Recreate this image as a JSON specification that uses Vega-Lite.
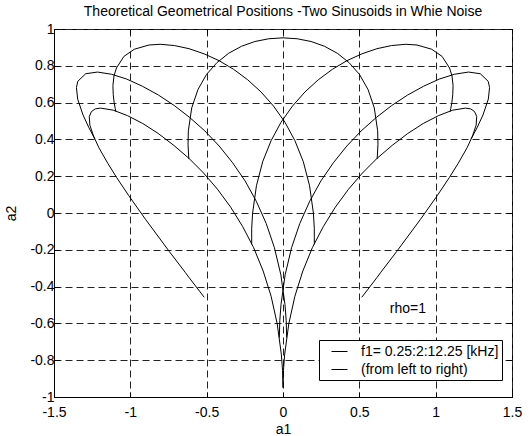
{
 "$schema": "https://vega.github.io/schema/vega-lite/v6.json",
 "width": 458, "height": 368,
 "autosize": {"type": "none"},
 "padding": {"left": 54, "top": 29, "right": 19, "bottom": 39},
 "background": "white",
 "title": {"text": "Theoretical Geometrical Positions -Two Sinusoids in Whie Noise", "font": "Liberation Sans", "fontSize": 14, "fontWeight": "normal", "color": "black", "offset": 3},
 "config": {"view": {"stroke": "black", "strokeWidth": 1}, "font": "Liberation Sans"},
 "data": {"values": [
  {"lab":"f1= 0.25:2:12.25 [kHz]","i":0,"a1":-0.516,"a2":-0.458},
  {"lab":"f1= 0.25:2:12.25 [kHz]","i":1,"a1":-0.543,"a2":-0.429},
  {"lab":"f1= 0.25:2:12.25 [kHz]","i":2,"a1":-0.617,"a2":-0.349},
  {"lab":"f1= 0.25:2:12.25 [kHz]","i":3,"a1":-0.641,"a2":-0.322},
  {"lab":"f1= 0.25:2:12.25 [kHz]","i":4,"a1":-0.744,"a2":-0.210},
  {"lab":"f1= 0.25:2:12.25 [kHz]","i":5,"a1":-0.900,"a2":-0.035},
  {"lab":"f1= 0.25:2:12.25 [kHz]","i":6,"a1":-1.010,"a2":0.094},
  {"lab":"f1= 0.25:2:12.25 [kHz]","i":7,"a1":-1.089,"a2":0.192},
  {"lab":"f1= 0.25:2:12.25 [kHz]","i":8,"a1":-1.147,"a2":0.269},
  {"lab":"f1= 0.25:2:12.25 [kHz]","i":9,"a1":-1.206,"a2":0.355},
  {"lab":"f1= 0.25:2:12.25 [kHz]","i":10,"a1":-1.241,"a2":0.418},
  {"lab":"f1= 0.25:2:12.25 [kHz]","i":11,"a1":-1.265,"a2":0.477},
  {"lab":"f1= 0.25:2:12.25 [kHz]","i":12,"a1":-1.269,"a2":0.524},
  {"lab":"f1= 0.25:2:12.25 [kHz]","i":13,"a1":-1.255,"a2":0.551},
  {"lab":"f1= 0.25:2:12.25 [kHz]","i":14,"a1":-1.229,"a2":0.566},
  {"lab":"f1= 0.25:2:12.25 [kHz]","i":15,"a1":-1.195,"a2":0.570},
  {"lab":"f1= 0.25:2:12.25 [kHz]","i":16,"a1":-1.112,"a2":0.559},
  {"lab":"f1= 0.25:2:12.25 [kHz]","i":17,"a1":-1.018,"a2":0.529},
  {"lab":"f1= 0.25:2:12.25 [kHz]","i":18,"a1":-0.918,"a2":0.486},
  {"lab":"f1= 0.25:2:12.25 [kHz]","i":19,"a1":-0.817,"a2":0.432},
  {"lab":"f1= 0.25:2:12.25 [kHz]","i":20,"a1":-0.716,"a2":0.368},
  {"lab":"f1= 0.25:2:12.25 [kHz]","i":21,"a1":-0.616,"a2":0.297},
  {"lab":"f1= 0.25:2:12.25 [kHz]","i":22,"a1":-0.520,"a2":0.217},
  {"lab":"f1= 0.25:2:12.25 [kHz]","i":23,"a1":-0.429,"a2":0.129},
  {"lab":"f1= 0.25:2:12.25 [kHz]","i":24,"a1":-0.343,"a2":0.032},
  {"lab":"f1= 0.25:2:12.25 [kHz]","i":25,"a1":-0.264,"a2":-0.074},
  {"lab":"f1= 0.25:2:12.25 [kHz]","i":26,"a1":-0.192,"a2":-0.189},
  {"lab":"f1= 0.25:2:12.25 [kHz]","i":27,"a1":-0.130,"a2":-0.315},
  {"lab":"f1= 0.25:2:12.25 [kHz]","i":28,"a1":-0.078,"a2":-0.452},
  {"lab":"f1= 0.25:2:12.25 [kHz]","i":29,"a1":-0.038,"a2":-0.602},
  {"lab":"f1= 0.25:2:12.25 [kHz]","i":30,"a1":-0.011,"a2":-0.767},
  {"lab":"f1= 0.25:2:12.25 [kHz]","i":31,"a1":-0.003,"a2":-0.856},
  {"lab":"f1= 0.25:2:12.25 [kHz]","i":32,"a1":0.000,"a2":-0.949},

  {"lab":"(from left to right)","i":0,"a1":-1.233,"a2":0.404},
  {"lab":"(from left to right)","i":1,"a1":-1.271,"a2":0.463},
  {"lab":"(from left to right)","i":2,"a1":-1.310,"a2":0.533},
  {"lab":"(from left to right)","i":3,"a1":-1.345,"a2":0.619},
  {"lab":"(from left to right)","i":4,"a1":-1.353,"a2":0.682},
  {"lab":"(from left to right)","i":5,"a1":-1.344,"a2":0.716},
  {"lab":"(from left to right)","i":6,"a1":-1.292,"a2":0.757},
  {"lab":"(from left to right)","i":7,"a1":-1.215,"a2":0.766},
  {"lab":"(from left to right)","i":8,"a1":-1.123,"a2":0.754},
  {"lab":"(from left to right)","i":9,"a1":-1.024,"a2":0.728},
  {"lab":"(from left to right)","i":10,"a1":-0.921,"a2":0.689},
  {"lab":"(from left to right)","i":11,"a1":-0.816,"a2":0.641},
  {"lab":"(from left to right)","i":12,"a1":-0.712,"a2":0.584},
  {"lab":"(from left to right)","i":13,"a1":-0.611,"a2":0.519},
  {"lab":"(from left to right)","i":14,"a1":-0.512,"a2":0.446},
  {"lab":"(from left to right)","i":15,"a1":-0.418,"a2":0.364},
  {"lab":"(from left to right)","i":16,"a1":-0.330,"a2":0.273},
  {"lab":"(from left to right)","i":17,"a1":-0.248,"a2":0.174},
  {"lab":"(from left to right)","i":18,"a1":-0.175,"a2":0.064},
  {"lab":"(from left to right)","i":19,"a1":-0.110,"a2":-0.057},
  {"lab":"(from left to right)","i":20,"a1":-0.056,"a2":-0.189},
  {"lab":"(from left to right)","i":21,"a1":-0.014,"a2":-0.336},
  {"lab":"(from left to right)","i":22,"a1":0.013,"a2":-0.498},
  {"lab":"(from left to right)","i":23,"a1":0.021,"a2":-0.585},
  {"lab":"(from left to right)","i":24,"a1":0.024,"a2":-0.677},

  {"lab":"f1=4.25","i":0,"a1":-1.095,"a2":0.551},
  {"lab":"f1=4.25","i":1,"a1":-1.099,"a2":0.568},
  {"lab":"f1=4.25","i":2,"a1":-1.106,"a2":0.600},
  {"lab":"f1=4.25","i":3,"a1":-1.112,"a2":0.643},
  {"lab":"f1=4.25","i":4,"a1":-1.114,"a2":0.693},
  {"lab":"f1=4.25","i":5,"a1":-1.107,"a2":0.745},
  {"lab":"f1=4.25","i":6,"a1":-1.091,"a2":0.788},
  {"lab":"f1=4.25","i":7,"a1":-1.042,"a2":0.851},
  {"lab":"f1=4.25","i":8,"a1":-0.974,"a2":0.890},
  {"lab":"f1=4.25","i":9,"a1":-0.878,"a2":0.913},
  {"lab":"f1=4.25","i":10,"a1":-0.805,"a2":0.917},
  {"lab":"f1=4.25","i":11,"a1":-0.711,"a2":0.910},
  {"lab":"f1=4.25","i":12,"a1":-0.615,"a2":0.893},
  {"lab":"f1=4.25","i":13,"a1":-0.517,"a2":0.865},
  {"lab":"f1=4.25","i":14,"a1":-0.419,"a2":0.828},
  {"lab":"f1=4.25","i":15,"a1":-0.324,"a2":0.781},
  {"lab":"f1=4.25","i":16,"a1":-0.231,"a2":0.724},
  {"lab":"f1=4.25","i":17,"a1":-0.144,"a2":0.658},
  {"lab":"f1=4.25","i":18,"a1":-0.062,"a2":0.581},
  {"lab":"f1=4.25","i":19,"a1":0.013,"a2":0.493},
  {"lab":"f1=4.25","i":20,"a1":0.078,"a2":0.393},
  {"lab":"f1=4.25","i":21,"a1":0.133,"a2":0.279},
  {"lab":"f1=4.25","i":22,"a1":0.174,"a2":0.148},
  {"lab":"f1=4.25","i":23,"a1":0.199,"a2":0.000},
  {"lab":"f1=4.25","i":24,"a1":0.205,"a2":-0.083},
  {"lab":"f1=4.25","i":25,"a1":0.205,"a2":-0.135},
  {"lab":"f1=4.25","i":26,"a1":0.205,"a2":-0.171},

  {"lab":"f1=6.25","i":0,"a1":-0.616,"a2":0.293},
  {"lab":"f1=6.25","i":1,"a1":-0.618,"a2":0.310},
  {"lab":"f1=6.25","i":2,"a1":-0.622,"a2":0.374},
  {"lab":"f1=6.25","i":3,"a1":-0.620,"a2":0.447},
  {"lab":"f1=6.25","i":4,"a1":-0.598,"a2":0.571},
  {"lab":"f1=6.25","i":5,"a1":-0.557,"a2":0.671},
  {"lab":"f1=6.25","i":6,"a1":-0.501,"a2":0.753},
  {"lab":"f1=6.25","i":7,"a1":-0.433,"a2":0.817},
  {"lab":"f1=6.25","i":8,"a1":-0.356,"a2":0.868},
  {"lab":"f1=6.25","i":9,"a1":-0.272,"a2":0.906},
  {"lab":"f1=6.25","i":10,"a1":-0.184,"a2":0.932},
  {"lab":"f1=6.25","i":11,"a1":-0.093,"a2":0.947},
  {"lab":"f1=6.25","i":12,"a1":0.000,"a2":0.952},
  {"lab":"f1=6.25","i":13,"a1":0.093,"a2":0.947},
  {"lab":"f1=6.25","i":14,"a1":0.184,"a2":0.932},
  {"lab":"f1=6.25","i":15,"a1":0.272,"a2":0.906},
  {"lab":"f1=6.25","i":16,"a1":0.356,"a2":0.868},
  {"lab":"f1=6.25","i":17,"a1":0.433,"a2":0.817},
  {"lab":"f1=6.25","i":18,"a1":0.501,"a2":0.753},
  {"lab":"f1=6.25","i":19,"a1":0.557,"a2":0.671},
  {"lab":"f1=6.25","i":20,"a1":0.598,"a2":0.571},
  {"lab":"f1=6.25","i":21,"a1":0.620,"a2":0.447},
  {"lab":"f1=6.25","i":22,"a1":0.622,"a2":0.374},
  {"lab":"f1=6.25","i":23,"a1":0.618,"a2":0.310},
  {"lab":"f1=6.25","i":24,"a1":0.616,"a2":0.293},

  {"lab":"f1=8.25","i":0,"a1":1.095,"a2":0.551},
  {"lab":"f1=8.25","i":1,"a1":1.099,"a2":0.568},
  {"lab":"f1=8.25","i":2,"a1":1.106,"a2":0.600},
  {"lab":"f1=8.25","i":3,"a1":1.112,"a2":0.643},
  {"lab":"f1=8.25","i":4,"a1":1.114,"a2":0.693},
  {"lab":"f1=8.25","i":5,"a1":1.107,"a2":0.745},
  {"lab":"f1=8.25","i":6,"a1":1.091,"a2":0.788},
  {"lab":"f1=8.25","i":7,"a1":1.042,"a2":0.851},
  {"lab":"f1=8.25","i":8,"a1":0.974,"a2":0.890},
  {"lab":"f1=8.25","i":9,"a1":0.878,"a2":0.913},
  {"lab":"f1=8.25","i":10,"a1":0.805,"a2":0.917},
  {"lab":"f1=8.25","i":11,"a1":0.711,"a2":0.910},
  {"lab":"f1=8.25","i":12,"a1":0.615,"a2":0.893},
  {"lab":"f1=8.25","i":13,"a1":0.517,"a2":0.865},
  {"lab":"f1=8.25","i":14,"a1":0.419,"a2":0.828},
  {"lab":"f1=8.25","i":15,"a1":0.324,"a2":0.781},
  {"lab":"f1=8.25","i":16,"a1":0.231,"a2":0.724},
  {"lab":"f1=8.25","i":17,"a1":0.144,"a2":0.658},
  {"lab":"f1=8.25","i":18,"a1":0.062,"a2":0.581},
  {"lab":"f1=8.25","i":19,"a1":-0.013,"a2":0.493},
  {"lab":"f1=8.25","i":20,"a1":-0.078,"a2":0.393},
  {"lab":"f1=8.25","i":21,"a1":-0.133,"a2":0.279},
  {"lab":"f1=8.25","i":22,"a1":-0.174,"a2":0.148},
  {"lab":"f1=8.25","i":23,"a1":-0.199,"a2":0.000},
  {"lab":"f1=8.25","i":24,"a1":-0.205,"a2":-0.083},
  {"lab":"f1=8.25","i":25,"a1":-0.205,"a2":-0.135},
  {"lab":"f1=8.25","i":26,"a1":-0.205,"a2":-0.171},

  {"lab":"f1=10.25","i":0,"a1":1.233,"a2":0.404},
  {"lab":"f1=10.25","i":1,"a1":1.271,"a2":0.463},
  {"lab":"f1=10.25","i":2,"a1":1.310,"a2":0.533},
  {"lab":"f1=10.25","i":3,"a1":1.345,"a2":0.619},
  {"lab":"f1=10.25","i":4,"a1":1.353,"a2":0.682},
  {"lab":"f1=10.25","i":5,"a1":1.344,"a2":0.716},
  {"lab":"f1=10.25","i":6,"a1":1.292,"a2":0.757},
  {"lab":"f1=10.25","i":7,"a1":1.215,"a2":0.766},
  {"lab":"f1=10.25","i":8,"a1":1.123,"a2":0.754},
  {"lab":"f1=10.25","i":9,"a1":1.024,"a2":0.728},
  {"lab":"f1=10.25","i":10,"a1":0.921,"a2":0.689},
  {"lab":"f1=10.25","i":11,"a1":0.816,"a2":0.641},
  {"lab":"f1=10.25","i":12,"a1":0.712,"a2":0.584},
  {"lab":"f1=10.25","i":13,"a1":0.611,"a2":0.519},
  {"lab":"f1=10.25","i":14,"a1":0.512,"a2":0.446},
  {"lab":"f1=10.25","i":15,"a1":0.418,"a2":0.364},
  {"lab":"f1=10.25","i":16,"a1":0.330,"a2":0.273},
  {"lab":"f1=10.25","i":17,"a1":0.248,"a2":0.174},
  {"lab":"f1=10.25","i":18,"a1":0.175,"a2":0.064},
  {"lab":"f1=10.25","i":19,"a1":0.110,"a2":-0.057},
  {"lab":"f1=10.25","i":20,"a1":0.056,"a2":-0.189},
  {"lab":"f1=10.25","i":21,"a1":0.014,"a2":-0.336},
  {"lab":"f1=10.25","i":22,"a1":-0.013,"a2":-0.498},
  {"lab":"f1=10.25","i":23,"a1":-0.021,"a2":-0.585},
  {"lab":"f1=10.25","i":24,"a1":-0.024,"a2":-0.677},

  {"lab":"f1=12.25","i":0,"a1":0.516,"a2":-0.458},
  {"lab":"f1=12.25","i":1,"a1":0.543,"a2":-0.429},
  {"lab":"f1=12.25","i":2,"a1":0.617,"a2":-0.349},
  {"lab":"f1=12.25","i":3,"a1":0.641,"a2":-0.322},
  {"lab":"f1=12.25","i":4,"a1":0.744,"a2":-0.210},
  {"lab":"f1=12.25","i":5,"a1":0.900,"a2":-0.035},
  {"lab":"f1=12.25","i":6,"a1":1.010,"a2":0.094},
  {"lab":"f1=12.25","i":7,"a1":1.089,"a2":0.192},
  {"lab":"f1=12.25","i":8,"a1":1.147,"a2":0.269},
  {"lab":"f1=12.25","i":9,"a1":1.206,"a2":0.355},
  {"lab":"f1=12.25","i":10,"a1":1.241,"a2":0.418},
  {"lab":"f1=12.25","i":11,"a1":1.265,"a2":0.477},
  {"lab":"f1=12.25","i":12,"a1":1.269,"a2":0.524},
  {"lab":"f1=12.25","i":13,"a1":1.255,"a2":0.551},
  {"lab":"f1=12.25","i":14,"a1":1.229,"a2":0.566},
  {"lab":"f1=12.25","i":15,"a1":1.195,"a2":0.570},
  {"lab":"f1=12.25","i":16,"a1":1.112,"a2":0.559},
  {"lab":"f1=12.25","i":17,"a1":1.018,"a2":0.529},
  {"lab":"f1=12.25","i":18,"a1":0.918,"a2":0.486},
  {"lab":"f1=12.25","i":19,"a1":0.817,"a2":0.432},
  {"lab":"f1=12.25","i":20,"a1":0.716,"a2":0.368},
  {"lab":"f1=12.25","i":21,"a1":0.616,"a2":0.297},
  {"lab":"f1=12.25","i":22,"a1":0.520,"a2":0.217},
  {"lab":"f1=12.25","i":23,"a1":0.429,"a2":0.129},
  {"lab":"f1=12.25","i":24,"a1":0.343,"a2":0.032},
  {"lab":"f1=12.25","i":25,"a1":0.264,"a2":-0.074},
  {"lab":"f1=12.25","i":26,"a1":0.192,"a2":-0.189},
  {"lab":"f1=12.25","i":27,"a1":0.130,"a2":-0.315},
  {"lab":"f1=12.25","i":28,"a1":0.078,"a2":-0.452},
  {"lab":"f1=12.25","i":29,"a1":0.038,"a2":-0.602},
  {"lab":"f1=12.25","i":30,"a1":0.011,"a2":-0.767},
  {"lab":"f1=12.25","i":31,"a1":0.003,"a2":-0.856},
  {"lab":"f1=12.25","i":32,"a1":0.000,"a2":-0.949}
 ]},
 "layer": [
  {
   "mark": {"type": "line", "strokeWidth": 1, "interpolate": "linear"},
   "encoding": {
    "x": {"field": "a1", "type": "quantitative",
      "scale": {"domain": [-1.5, 1.5], "nice": false, "zero": false},
      "axis": {"values": [-1.5, -1, -0.5, 0, 0.5, 1, 1.5], "labelExpr": "'' + datum.value", "title": "a1",
        "grid": true, "gridDash": [7, 4], "gridColor": "#222", "gridWidth": 1, "gridOpacity": 1,
        "tickSize": -5, "tickColor": "black", "domainColor": "black",
        "labelFont": "Liberation Sans", "labelFontSize": 14, "labelColor": "black", "labelPadding": 13, "labelFlush": false, "labelOverlap": false,
        "titleFont": "Liberation Sans", "titleFontSize": 14, "titleFontWeight": "normal", "titleColor": "black", "titlePadding": 3}},
    "y": {"field": "a2", "type": "quantitative",
      "scale": {"domain": [-1, 1], "nice": false, "zero": false},
      "axis": {"values": [-1, -0.8, -0.6, -0.4, -0.2, 0, 0.2, 0.4, 0.6, 0.8, 1], "labelExpr": "'' + datum.value", "title": "a2",
        "grid": true, "gridDash": [7, 4], "gridColor": "#222", "gridWidth": 1, "gridOpacity": 1,
        "tickSize": -5, "tickColor": "black", "domainColor": "black",
        "labelFont": "Liberation Sans", "labelFontSize": 14, "labelColor": "black", "labelPadding": 5, "labelFlush": false, "labelOverlap": false,
        "titleFont": "Liberation Sans", "titleFontSize": 14, "titleFontWeight": "normal", "titleColor": "black", "titlePadding": 11}},
    "color": {"field": "lab", "type": "nominal",
      "scale": {"domain": ["f1= 0.25:2:12.25 [kHz]", "(from left to right)", "f1=4.25", "f1=6.25", "f1=8.25", "f1=10.25", "f1=12.25"],
                "range": ["black", "black", "black", "black", "black", "black", "black"]},
      "legend": {"values": ["f1= 0.25:2:12.25 [kHz]", "(from left to right)"], "title": null,
        "orient": "none", "legendX": 265, "legendY": 311, "direction": "vertical",
        "symbolType": "stroke", "symbolSize": 256, "symbolStrokeWidth": 1, "symbolStrokeColor": "black", "symbolOffset": 9,
        "labelFont": "Liberation Sans", "labelFontSize": 14, "labelColor": "black", "labelOffset": 13, "labelLimit": 300,
        "strokeColor": "black", "fillColor": "white", "padding": 3, "rowPadding": 2}},
    "order": {"field": "i", "type": "quantitative"}
   }
  },
  {
   "data": {"values": [{"a1": 0.7, "a2": -0.52, "t": "rho=1"}]},
   "mark": {"type": "text", "align": "left", "baseline": "middle", "font": "Liberation Sans", "fontSize": 14, "color": "black"},
   "encoding": {
    "x": {"field": "a1", "type": "quantitative",
      "axis": {"orient": "top", "values": [-1.5, -1, -0.5, 0, 0.5, 1, 1.5], "labels": false, "title": null, "grid": false, "domain": false, "tickSize": -5, "tickColor": "black"}},
    "y": {"field": "a2", "type": "quantitative",
      "axis": {"orient": "right", "values": [-1, -0.8, -0.6, -0.4, -0.2, 0, 0.2, 0.4, 0.6, 0.8, 1], "labels": false, "title": null, "grid": false, "domain": false, "tickSize": -5, "tickColor": "black"}},
    "text": {"field": "t"}
   }
  }
 ],
 "resolve": {"axis": {"x": "independent", "y": "independent"}}
}
